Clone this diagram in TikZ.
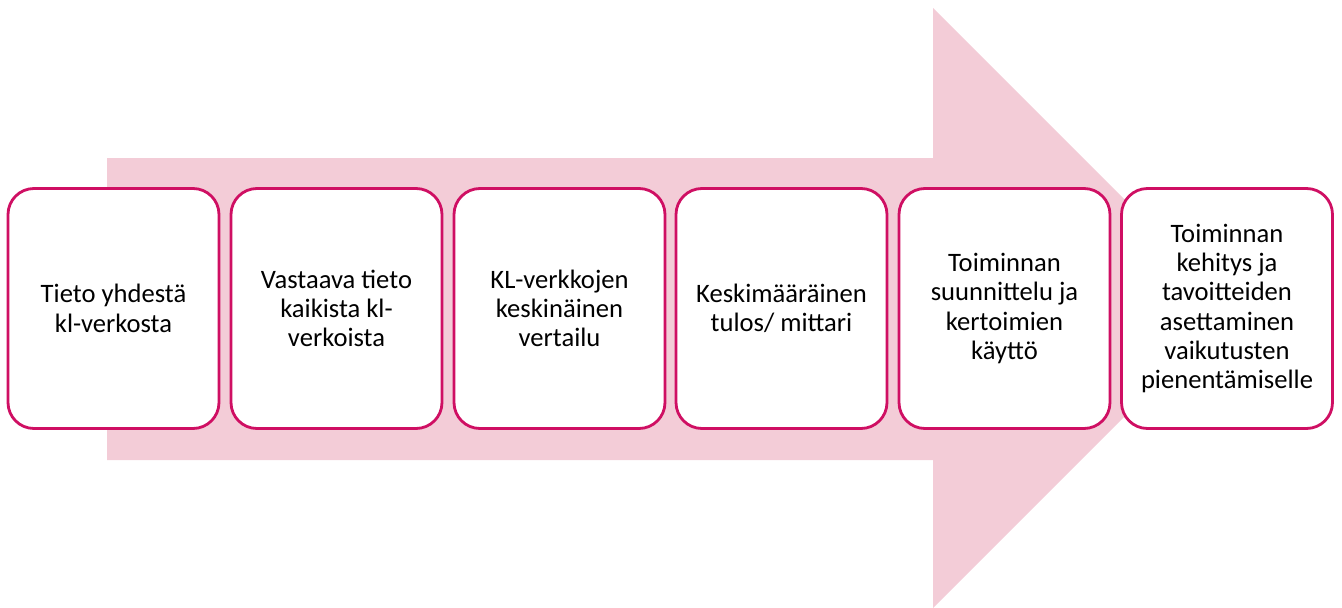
\documentclass[tikz,border=0pt]{standalone}
\usepackage{fontspec}
\setmainfont{Carlito}
\definecolor{arrowpink}{HTML}{F3CCD7}
\definecolor{berry}{HTML}{CF0F63}
\begin{document}
\begin{tikzpicture}[x=1pt,y=-1pt,
  stepbox/.style={draw=berry, line width=2.8pt, fill=white, rounded corners=26pt,
    minimum width=211pt, minimum height=240pt, inner sep=0pt,
    align=center, font=\fontsize{26.6pt}{29.3pt}\selectfont, text=black}]
\useasboundingbox (0,0) rectangle (1342,608);
% big background arrow
\fill[arrowpink] (107,158) -- (933,158) -- (933,8) -- (1233,308) -- (933,608) -- (933,460) -- (107,460) -- cycle;
% process steps
\node[stepbox] (s1) at (113.5,308.5) {Tieto yhdestä\\kl-verkosta};
\node[stepbox] (s2) at (336.5,308.5) {Vastaava tieto\\kaikista kl-\\verkoista};
\node[stepbox] (s3) at (559.5,308.5) {KL-verkkojen\\keskinäinen\\vertailu};
\node[stepbox] (s4) at (781.5,308.5) {Keskimääräinen\\tulos/ mittari};
\node[stepbox] (s5) at (1004.5,308.5) {Toiminnan\\suunnittelu ja\\kertoimien\\käyttö};
\node[stepbox] (s6) at (1227,308.5) {Toiminnan\\kehitys ja\\tavoitteiden\\asettaminen\\vaikutusten\\pienentämiselle};
\end{tikzpicture}
\end{document}
